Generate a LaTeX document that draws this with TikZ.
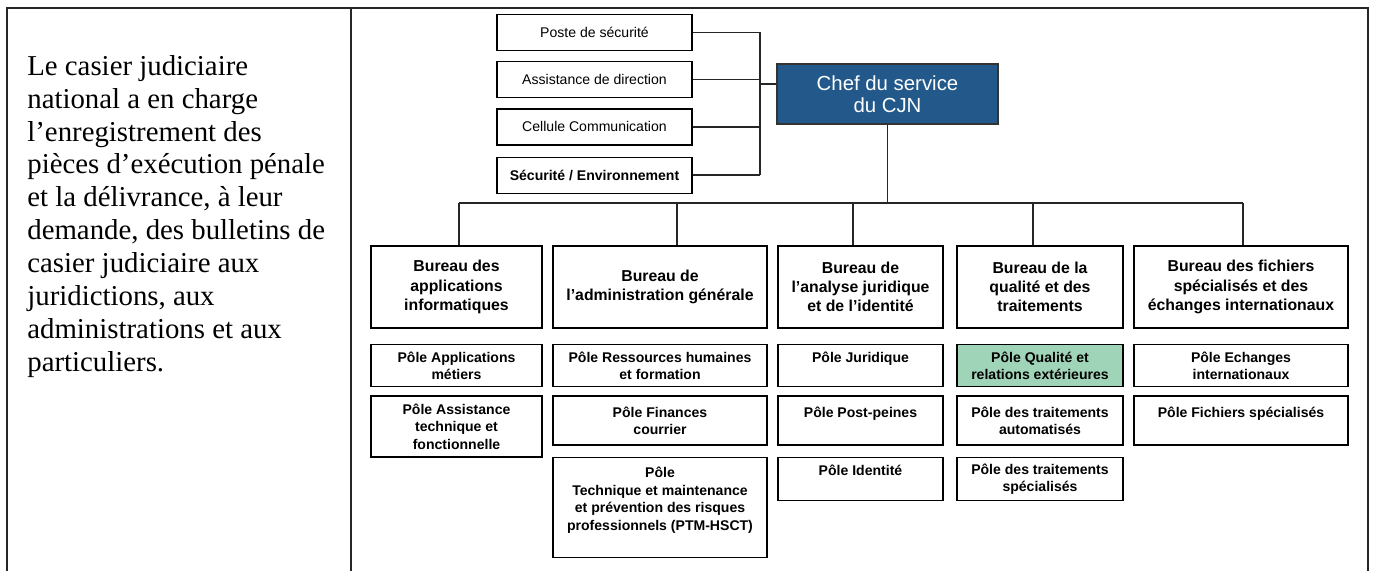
\documentclass[tikz,border=0pt]{standalone}
\usepackage{fontspec}
\setmainfont{Liberation Serif}
\setsansfont{Liberation Sans}
\usepackage{tikz}
\usetikzlibrary{positioning}
\definecolor{cjnblue}{RGB}{34,88,138}
\definecolor{cjngreen}{RGB}{160,212,184}

\begin{document}
\begin{tikzpicture}[
    x=0.02cm, y=-0.02cm,
    node distance=0.2cm,
    frame/.style={line width=0.8pt, black!85},
    intro/.style={anchor=north west, inner sep=0pt, align=left,
                  font=\rmfamily\fontsize{16.4}{18.7}\selectfont},
    staff/.style={rectangle, draw, line width=0.7pt, minimum width=3.9cm,
                  minimum height=0.72cm, align=center,
                  font=\sffamily\fontsize{8}{9.9}\selectfont},
    chef/.style={rectangle, draw=black!80, line width=0.8pt, fill=cjnblue,
                 text=white, minimum width=4.42cm, minimum height=1.2cm,
                 align=center, font=\sffamily\fontsize{11.6}{12.8}\selectfont},
    bureau/.style={rectangle, draw, line width=1.1pt, minimum height=1.64cm,
                   align=center, font=\sffamily\bfseries\fontsize{9}{11}\selectfont},
    pole/.style={rectangle, draw, line width=0.8pt, align=center,
                 font=\sffamily\bfseries\fontsize{8}{9.9}\selectfont},
    link/.style={line width=0.8pt, black!85},
]
    \useasboundingbox (0,0) rectangle (1373,571);

    % outer frame, open at the bottom
    \draw[frame] (7,571) -- (7,8) -- (1368,8) -- (1368,571);
    \draw[frame, line width=1.1pt] (351,8) -- (351,571);

    \node[intro] (intro) at (27,55)
        {Le casier judiciaire\\
         national a en charge\\
         l’enregistrement des\\
         pièces d’exécution pénale\\
         et la délivrance, à leur\\
         demande, des bulletins de\\
         casier judiciaire aux\\
         juridictions, aux\\
         administrations et aux\\
         particuliers.};

    % head and staff
    \node[chef] (chef) at (887.5,94) {Chef du service\\du CJN};

    \node[staff] (st1) at (594.5,32.5) {Poste de sécurité};
    \node[staff, below=of st1] (st2) {Assistance de direction};
    \node[staff, below=of st2] (st3) {Cellule Communication};
    \node[staff, below=0.22cm of st3] (st4) {\bfseries Sécurité / Environnement};

    \coordinate (trunk) at (760,84);
    \foreach \s in {st1,st2,st3,st4}
        \draw[link] (\s.east) -- (\s.east -| trunk);
    \draw[link] (st1.east -| trunk) -- (st4.east -| trunk);
    \draw[link] (trunk) -- (trunk -| chef.west);

    % bureaux
    \node[bureau, minimum width=3.42cm] (b1) at (456.5,287)
        {Bureau des\\applications\\informatiques};
    \node[bureau, minimum width=4.28cm] (b2) at (660,287)
        {Bureau de\\l’administration générale};
    \node[bureau, minimum width=3.3cm] (b3) at (860.5,287)
        {Bureau de\\l’analyse juridique\\et de l’identité};
    \node[bureau, minimum width=3.32cm] (b4) at (1040,287)
        {Bureau de la\\qualité et des\\traitements};
    \node[bureau, minimum width=4.28cm] (b5) at (1241,287)
        {Bureau des fichiers\\spécialisés et des\\échanges internationaux};

    \foreach \x [count=\i] in {459,677,853,1033,1243}
        \coordinate (d\i) at (\x,203);
    \draw[link] (chef.south) -- (chef.south |- d1);
    \draw[link] (d1) -- (d5);
    \foreach \i in {1,...,5}
        \draw[link] (d\i) -- (d\i |- b\i.north);

    % poles
    \node[pole, minimum width=3.42cm, minimum height=0.84cm, below=0.3cm of b1] (p1a)
        {Pôle Applications\\métiers};
    \node[pole, minimum width=3.42cm, minimum height=1.22cm, below=0.16cm of p1a] (p1b)
        {Pôle Assistance\\technique et\\fonctionnelle};

    \node[pole, minimum width=4.28cm, minimum height=0.84cm, below=0.3cm of b2] (p2a)
        {Pôle Ressources humaines\\et formation};
    \node[pole, minimum width=4.28cm, minimum height=0.98cm, below=0.16cm of p2a] (p2b)
        {Pôle Finances\\courrier};
    \node[pole, minimum width=4.28cm, minimum height=2cm, below=0.22cm of p2b] (p2c)
        {Pôle\\Technique et maintenance\\et prévention des risques\\professionnels (PTM-HSCT)\\~};

    \node[pole, minimum width=3.3cm, minimum height=0.84cm, below=0.3cm of b3] (p3a)
        {Pôle Juridique\\~};
    \node[pole, minimum width=3.3cm, minimum height=0.98cm, below=0.16cm of p3a] (p3b)
        {Pôle Post-peines\\~};
    \node[pole, minimum width=3.3cm, minimum height=0.86cm, below=0.22cm of p3b] (p3c)
        {Pôle Identité\\~};

    \node[pole, fill=cjngreen, minimum width=3.32cm, minimum height=0.84cm, below=0.3cm of b4] (p4a)
        {Pôle Qualité et\\relations extérieures};
    \node[pole, minimum width=3.32cm, minimum height=0.98cm, below=0.16cm of p4a] (p4b)
        {Pôle des traitements\\automatisés};
    \node[pole, minimum width=3.32cm, minimum height=0.86cm, below=0.22cm of p4b] (p4c)
        {Pôle des traitements\\spécialisés};

    \node[pole, minimum width=4.28cm, minimum height=0.84cm, below=0.3cm of b5] (p5a)
        {Pôle Echanges\\internationaux};
    \node[pole, minimum width=4.28cm, minimum height=0.98cm, below=0.16cm of p5a] (p5b)
        {Pôle Fichiers spécialisés\\~};
\end{tikzpicture}
\end{document}
